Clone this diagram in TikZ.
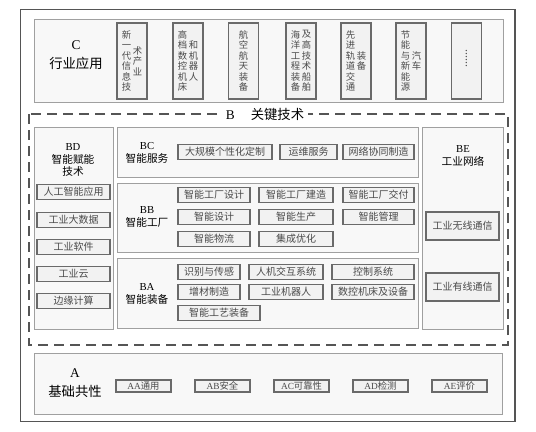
\documentclass[tikz,border=0pt]{standalone}
\usepackage{fontspec}
\setmainfont{Liberation Serif}
\newfontfamily\cjk{Noto Sans CJK SC}
\usepackage{tikz}
\definecolor{framegray}{HTML}{555555}
\definecolor{panelgray}{HTML}{A0A0A0}
\definecolor{panelfill}{HTML}{F8F8F8}
\definecolor{itemgray}{HTML}{6A6A6A}
\definecolor{itemfill}{HTML}{F2F2F2}
\definecolor{textgray}{HTML}{4A4A4A}

\begin{document}
\begin{tikzpicture}[
    x=0.75pt, y=-0.75pt,
    every node/.style={font=\cjk\fontsize{7.5}{9}\selectfont, text=textgray},
    outerframe/.style={draw=framegray, line width=1.1pt},
    panel/.style={draw=panelgray, fill=panelfill, line width=0.6pt},
    dashframe/.style={draw=framegray, line width=0.8pt, dash pattern=on 7.5pt off 4.5pt},
    item/.style={
        rectangle,
        draw=itemgray,
        fill=itemfill,
        line width=0.8pt,
        inner sep=0pt,
        minimum height=11.25pt
    },
    iw/.style={minimum width=#1*0.75pt},
    ih/.style={minimum height=#1*0.75pt},
    vbox/.style={
        rectangle,
        draw=itemgray,
        fill=itemfill,
        line width=0.8pt,
        minimum width=22.5pt,
        minimum height=57pt
    },
    vtext/.style={align=center, inner sep=0pt, font=\cjk\fontsize{7}{7.9}\selectfont},
    grouplabel/.style={align=center, inner sep=0pt, text=black, font=\cjk\fontsize{8}{9.6}\selectfont},
    biglabel/.style={align=center, inner sep=0pt, text=black, font=\cjk\fontsize{10}{14}\selectfont}
]
\useasboundingbox (0,0) rectangle (536,432);

% Frames
\draw[outerframe] (20.5,9.5) rectangle (515,421.5);
\draw[panel] (34,19) rectangle (503,102);
\draw[dashframe] (29,114) rectangle (508,345);
\draw[panel] (34,127) rectangle (113,329);
\draw[panel] (117,127) rectangle (418,177);
\draw[panel] (117,183) rectangle (418,252);
\draw[panel] (117,258) rectangle (418,328);
\draw[panel] (422,127) rectangle (503,329);
\draw[panel] (34,353) rectangle (502,414);

% C industry applications
\node[biglabel] (c) at (76,55) {\textrm{C}\\行业应用};
\node[vbox] (c1) at (132,61) {};
\node[vbox] (c2) at (188,61) {};
\node[vbox] (c3) at (243.5,61) {};
\node[vbox] (c4) at (301,61) {};
\node[vbox] (c5) at (356,61) {};
\node[vbox] (c6) at (411,61) {};
\node[vbox] (c7) at (466.5,61) {};

\node[vtext] (c1a) at (126.5,61) {新\\一\\代\\信\\息\\技};
\node[vtext] (c1b) at (137.5,61) {术\\产\\业};
\node[vtext] (c2a) at (182.5,61) {高\\档\\数\\控\\机\\床};
\node[vtext] (c2b) at (193.5,61) {和\\机\\器\\人};
\node[vtext] (c3a) at (243.5,61) {航\\空\\航\\天\\装\\备};
\node[vtext] (c4a) at (295.5,61) {海\\洋\\工\\程\\装\\备};
\node[vtext] (c4b) at (306.5,61) {及\\高\\技\\术\\船\\舶};
\node[vtext] (c5a) at (350.5,61) {先\\进\\轨\\道\\交\\通};
\node[vtext] (c5b) at (361.5,61) {装\\备};
\node[vtext] (c6a) at (405.5,61) {节\\能\\与\\新\\能\\源};
\node[vtext] (c6b) at (416.5,61) {汽\\车};
\node[rotate=-90, inner sep=0pt, font=\rmfamily\fontsize{9}{9}\selectfont] (c7a) at (466.5,59) {......};

% B key technologies
\node[biglabel, fill=white, inner xsep=3pt, inner ysep=1pt] (b) at (265,114) {\textrm{B}\hspace{12pt}关键技术};

% BD enabling technologies
\node[grouplabel] (bd) at (73,160) {\textrm{BD}\\智能赋能\\技术};
\node[item, iw=73] (bd1) at (73.5,192) {人工智能应用};
\node[item, iw=73] (bd2) at (73.5,220) {工业大数据};
\node[item, iw=73] (bd3) at (73.5,247) {工业软件};
\node[item, iw=73] (bd4) at (73.5,274) {工业云};
\node[item, iw=73] (bd5) at (73.5,301) {边缘计算};

% BC smart services
\node[grouplabel] (bc) at (147,153) {\textrm{BC}\\智能服务};
\node[item, iw=94] (bc1) at (225,152) {大规模个性化定制};
\node[item, iw=57] (bc2) at (308.5,152) {运维服务};
\node[item, iw=71] (bc3) at (378.5,152) {网络协同制造};

% BB smart factory
\node[grouplabel] (bb) at (147,217) {\textrm{BB}\\智能工厂};
\node[item, iw=72] (bb1) at (214,195) {智能工厂设计};
\node[item, iw=74] (bb2) at (296,195) {智能工厂建造};
\node[item, iw=71] (bb3) at (378.5,195) {智能工厂交付};
\node[item, iw=72] (bb4) at (214,217) {智能设计};
\node[item, iw=74] (bb5) at (296,217) {智能生产};
\node[item, iw=71] (bb6) at (378.5,217) {智能管理};
\node[item, iw=72] (bb7) at (214,239) {智能物流};
\node[item, iw=74] (bb8) at (296,239) {集成优化};

% BA smart equipment
\node[grouplabel] (ba) at (147,294) {\textrm{BA}\\智能装备};
\node[item, iw=62] (ba1) at (209,272) {识别与传感};
\node[item, iw=74] (ba2) at (286,272) {人机交互系统};
\node[item, iw=82] (ba3) at (373,272) {控制系统};
\node[item, iw=62] (ba4) at (209,292) {增材制造};
\node[item, iw=74] (ba5) at (286,292) {工业机器人};
\node[item, iw=82] (ba6) at (373,292) {数控机床及设备};
\node[item, iw=82] (ba7) at (219,313) {智能工艺装备};

% BE industrial network
\node[grouplabel] (be) at (463,156) {\textrm{BE}\\工业网络};
\node[item, iw=73, ih=28] (be1) at (462.5,226) {工业无线通信};
\node[item, iw=73, ih=28] (be2) at (462.5,287) {工业有线通信};

% A common foundations
\node[biglabel] (a) at (75,383) {\textrm{A}\\基础共性};
\node[item, iw=55, ih=12, font=\cjk\fontsize{7}{8}\selectfont] (aa) at (143.5,386) {\textrm{AA}通用};
\node[item, iw=55, ih=12, font=\cjk\fontsize{7}{8}\selectfont] (ab) at (222.5,386) {\textrm{AB}安全};
\node[item, iw=55, ih=12, font=\cjk\fontsize{7}{8}\selectfont] (ac) at (301.5,386) {\textrm{AC}可靠性};
\node[item, iw=55, ih=12, font=\cjk\fontsize{7}{8}\selectfont] (ad) at (380.5,386) {\textrm{AD}检测};
\node[item, iw=55, ih=12, font=\cjk\fontsize{7}{8}\selectfont] (ae) at (459.5,386) {\textrm{AE}评价};

\end{tikzpicture}
\end{document}
